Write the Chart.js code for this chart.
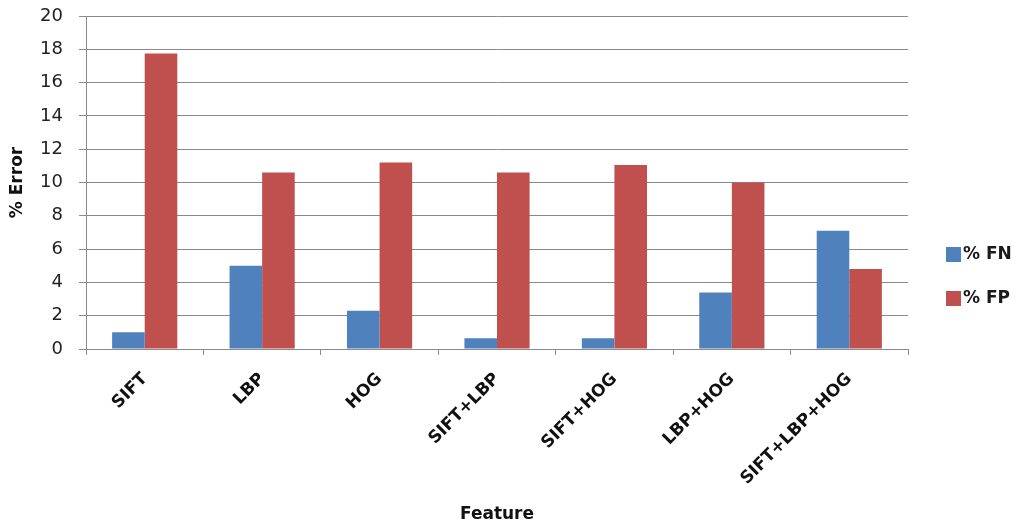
<!DOCTYPE html>
<html>
<head>
<meta charset="utf-8">
<title>% Error by Feature</title>
<script src="https://cdn.jsdelivr.net/npm/chart.js@4.4.0/dist/chart.umd.min.js"></script>
<style>
  html, body { margin: 0; padding: 0; background: #ffffff; }
  #wrap { position: relative; width: 1016px; height: 529px; }
</style>
</head>
<body>
<div id="wrap"><canvas id="chart" width="1016" height="529"></canvas></div>
<script>
// Feature sets compared
const categories = ['SIFT', 'LBP', 'HOG', 'SIFT+LBP', 'SIFT+HOG', 'LBP+HOG', 'SIFT+LBP+HOG'];
// False negative rate (%)
const fnValues = [1.0, 5.0, 2.3, 0.65, 0.65, 3.4, 7.1];
// False positive rate (%)
const fpValues = [17.75, 10.6, 11.2, 10.6, 11.05, 10.0, 4.8];
const seriesNames = ['% FN', '% FP'];
const yTicks = [0, 2, 4, 6, 8, 10, 12, 14, 16, 18, 20];

const FONT = '"DejaVu Sans", "Open Sans", sans-serif';
const GRID = '#8a8a8a';

// Fixed box sizes for the axes so the plot area sits where it should
const Y_AXIS_WIDTH = 86;
const X_AXIS_HEIGHT = 180;

// Legend drawn at the right margin
const sideLegend = {
  id: 'sideLegend',
  afterDraw(chart) {
    const ctx = chart.ctx;
    const x = 946;
    const rowY = [254, 298];
    ctx.save();
    ctx.font = 'bold 17px ' + FONT;
    ctx.textBaseline = 'middle';
    ctx.textAlign = 'left';
    chart.data.datasets.forEach((ds, i) => {
      const y = rowY[i];
      ctx.fillStyle = ds.backgroundColor;
      ctx.fillRect(x, y - 7, 15, 15);
      ctx.fillStyle = '#1a1a1a';
      ctx.fillText(ds.label, x + 17, y + 1);
    });
    ctx.restore();
  }
};

new Chart(document.getElementById('chart'), {
  type: 'bar',
  data: {
    labels: categories,
    datasets: [
      { label: seriesNames[0], data: fnValues, backgroundColor: '#4F81BD' },
      { label: seriesNames[1], data: fpValues, backgroundColor: '#C0504D' }
    ]
  },
  options: {
    responsive: false,
    animation: false,
    devicePixelRatio: 1,
    layout: { padding: { top: 16, right: 108, left: 0, bottom: 0 } },
    datasets: { bar: { categoryPercentage: 0.555, barPercentage: 1.0 } },
    plugins: {
      legend: { display: false },
      tooltip: { enabled: false }
    },
    scales: {
      x: {
        afterFit(axis) {
          axis.height = X_AXIS_HEIGHT;
          axis.paddingLeft = 0;
          axis.paddingRight = 0;
        },
        grid: {
          display: true,
          offset: true,
          drawOnChartArea: false,
          drawTicks: true,
          tickLength: 6,
          color: GRID
        },
        border: { display: true, color: GRID, width: 1 },
        ticks: {
          minRotation: 45,
          maxRotation: 45,
          padding: 14,
          color: '#111111',
          font: { family: FONT, size: 17, weight: 'bold' }
        },
        title: {
          display: true,
          text: 'Feature',
          color: '#111111',
          font: { family: FONT, size: 17, weight: 'bold' },
          padding: { top: 0, bottom: 4 }
        }
      },
      y: {
        min: 0,
        max: 20,
        afterBuildTicks(axis) { axis.ticks = yTicks.map(v => ({ value: v })); },
        afterFit(axis) {
          axis.width = Y_AXIS_WIDTH;
          axis.paddingTop = 0;
          axis.paddingBottom = 0;
        },
        grid: {
          color: GRID,
          lineWidth: 1,
          drawTicks: true,
          tickLength: 7
        },
        border: { display: true, color: GRID, width: 1 },
        ticks: {
          padding: 16,
          color: '#222222',
          font: { family: FONT, size: 18 }
        },
        title: {
          display: true,
          text: '% Error',
          color: '#111111',
          font: { family: FONT, size: 17, weight: 'bold' },
          padding: { top: 7, bottom: 0 }
        }
      }
    }
  },
  plugins: [sideLegend]
});
</script>
</body>
</html>
